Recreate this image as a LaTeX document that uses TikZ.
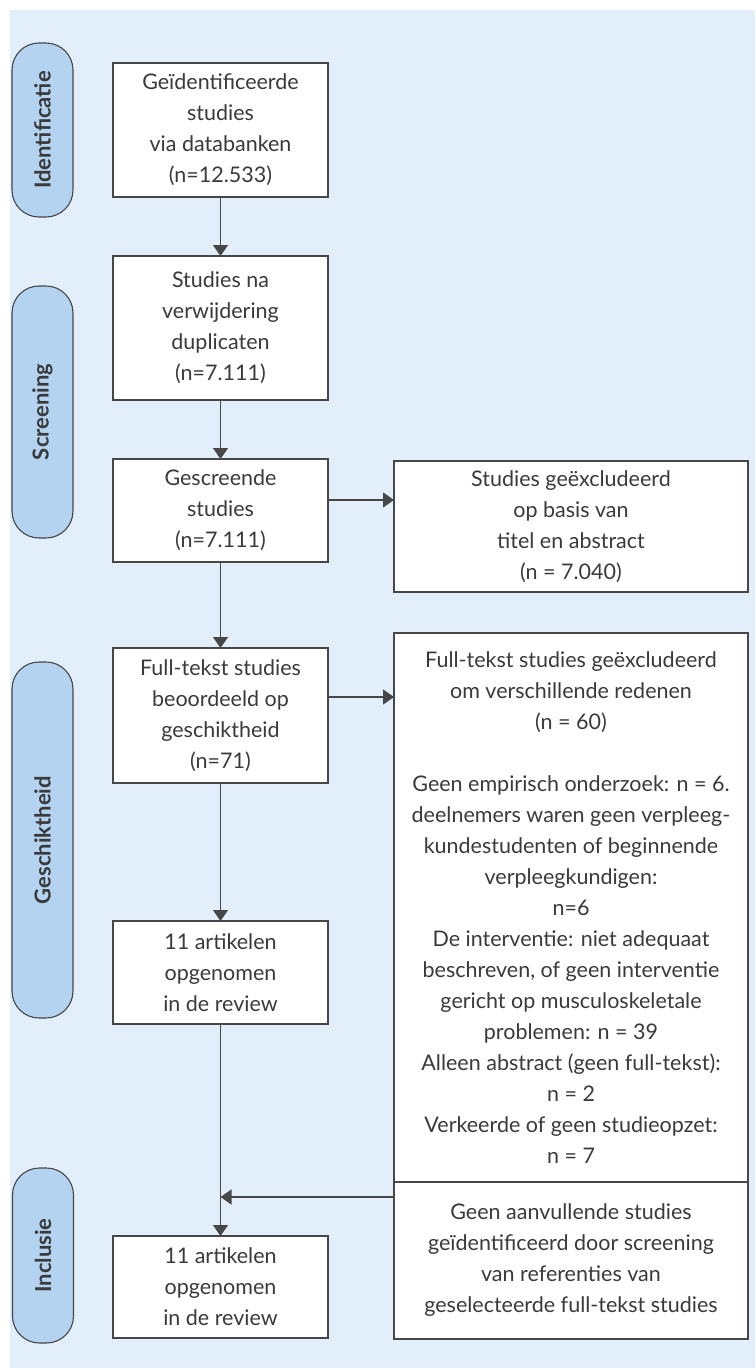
\documentclass[tikz,border=0pt]{standalone}
\usepackage{fontspec}
\setmainfont{Lato}
\usepackage{xcolor}
\usetikzlibrary{positioning,arrows.meta}

\definecolor{bgblue}{HTML}{E2EEF9}
\definecolor{pillblue}{HTML}{B3D3F0}
\definecolor{lineg}{HTML}{474747}
\definecolor{textg}{HTML}{3A3A3A}

\begin{document}
\begin{tikzpicture}[x=1pt, y=1pt,
  font=\fontsize{21.5}{31}\selectfont, >={Triangle[width=15pt,length=11pt]},
  box/.style={draw=lineg, line width=1.3pt, fill=white, text=textg, align=center,
              minimum width=215pt, inner sep=2pt, outer sep=0pt},
  excl/.style={box, minimum width=354pt},
  phase/.style={draw=lineg, line width=1.1pt, fill=pillblue, rounded corners=27pt,
                rotate=90, minimum height=61pt, inner sep=0pt, outer sep=0pt,
                text=textg, font=\fontsize{22}{24}\selectfont\bfseries},
  flow/.style={->, draw=lineg, line width=1.3pt}]

\useasboundingbox (0,0) rectangle (755,-1370);
\fill[white] (0,0) rectangle (755,-1370);
\fill[bgblue] (10,-10) rectangle (755,-1368);

% phases
\node[phase, minimum width=174pt] (pid) at (42.5,-130) {Identificatie};
\node[phase, minimum width=252pt] (pscr) at (42.5,-412) {Screening};
\node[phase, minimum width=356pt] (pgs) at (42.5,-840) {Geschiktheid};
\node[phase, minimum width=175pt] (pinc) at (43,-1255.5) {Inclusie};

% main column
\node[box, minimum height=134pt] (id) at (220.5,-130) {Geïdentificeerde\\studies\\via databanken\\(n=12.533)};
\node[box, minimum height=144pt, below=59pt of id] (dup) {Studies na\\verwijdering\\duplicaten\\(n=7.111)};
\node[box, minimum height=103pt, below=59pt of dup] (scr) {Gescreende\\studies\\(n=7.111)};
\node[box, minimum height=135pt, below=86pt of scr] (full) {Full-tekst studies\\beoordeeld op\\geschiktheid\\(n=71)};
\node[box, minimum height=103pt, below=138pt of full] (incl) {11 artikelen\\opgenomen\\in de review};
\node[box, minimum height=102pt, below=212pt of incl] (rev) {11 artikelen\\opgenomen\\in de review};

% exclusions
\node[excl, minimum height=131pt, right=66pt of scr, yshift=-16pt] (ta) {Studies geëxcludeerd\\op basis van\\titel en abstract\\(n = 7.040)};
\node[excl, minimum height=549pt, below=41pt of ta] (ft) {Full-tekst studies geëxcludeerd\\om verschillende redenen\\(n = 60)\\[31pt]
  Geen empirisch onderzoek: n = 6.\\deelnemers waren geen verpleeg-\\kundestudenten of beginnende\\verpleegkundigen:\\n=6\\
  De interventie: niet adequaat\\beschreven, of geen interventie\\gericht op musculoskeletale\\problemen: n = 39\\
  Alleen abstract (geen full-tekst):\\n = 2\\Verkeerde of geen studieopzet:\\n = 7};
\node[excl, minimum height=157pt, below=0pt of ft] (refs) {Geen aanvullende studies\\geïdentificeerd door screening\\van referenties van\\geselecteerde full-tekst studies};
\draw[lineg, line width=2.4pt] (refs.north west) -- (refs.north east);

% flow
\draw[flow] (id) -- (dup);
\draw[flow] (dup) -- (scr);
\draw[flow] (scr) -- (full);
\draw[flow] (full) -- (incl);
\draw[flow] (incl) -- (rev);
\coordinate (o1) at ([yshift=10.5pt]scr.east);
\draw[flow] (o1) -- (o1 -| ta.west);
\coordinate (o2) at ([yshift=18.5pt]full.east);
\draw[flow] (o2) -- (o2 -| ft.west);
\coordinate (o3) at ([yshift=-15pt]refs.north west);
\draw[flow] (o3) -- (o3 -| incl.south);
\end{tikzpicture}
\end{document}
